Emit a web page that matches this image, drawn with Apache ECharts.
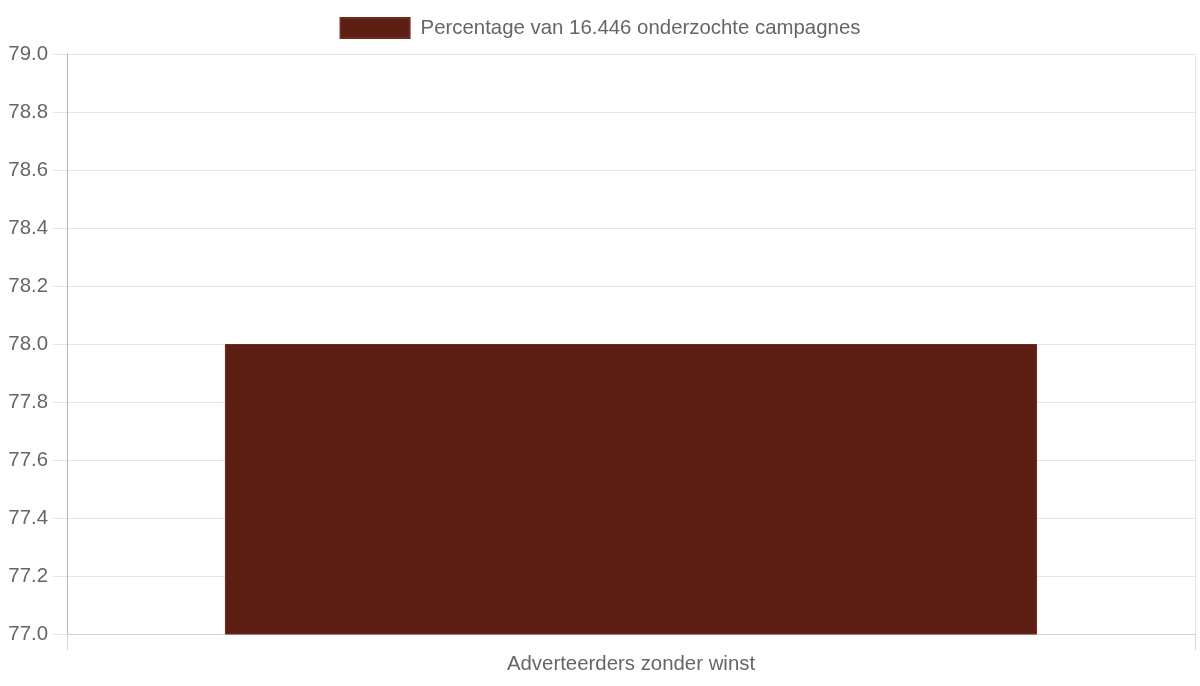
<!DOCTYPE html>
<html>
<head>
<meta charset="utf-8">
<script src="https://cdn.jsdelivr.net/npm/echarts@6/dist/echarts.min.js"></script>
<style>
html,body{margin:0;padding:0;background:#fff;}
#chart{width:1200px;height:686px;}
</style>
</head>
<body>
<div id="chart"></div>
<script>
const categories = ["Adverteerders zonder winst"];
const seriesName = "Percentage van 16.446 onderzochte campagnes";
const values = [78.0];
const yMin = 77.0, yMax = 79.0, yStep = 0.2;

const chart = echarts.init(document.getElementById('chart'));
const font = '"Liberation Sans", Arial, sans-serif';
chart.setOption({
  animation: false,
  textStyle: { fontFamily: font },
  legend: {
    top: 12, left: 'center',
    itemWidth: 69, itemHeight: 20, itemGap: 10,
    icon: 'rect',
    textStyle: { fontSize: 20.4, color: '#666', fontFamily: font, padding: [0, 0, 0, 6] },
    data: [seriesName]
  },
  grid: { left: 67, right: 5, top: 54, bottom: 52, containLabel: false },
  xAxis: {
    type: 'category',
    data: categories,
    boundaryGap: true,
    axisLine: { show: true, lineStyle: { color: '#cfcfcf', width: 1 } },
    axisTick: { show: true, length: 16, alignWithLabel: false, lineStyle: { color: '#d5d5d5' } },
    splitLine: { show: true, lineStyle: { color: '#e5e5e5' } },
    axisLabel: { fontSize: 20.4, color: '#666', margin: 20, fontFamily: font }
  },
  yAxis: {
    type: 'value',
    min: yMin, max: yMax, interval: yStep,
    axisLine: { show: true, lineStyle: { color: '#b5b5b5', width: 1 } },
    axisTick: { show: true, length: 14, lineStyle: { color: '#e5e5e5' } },
    splitLine: { show: true, lineStyle: { color: '#e5e5e5' } },
    axisLabel: { fontSize: 20.4, color: '#666', margin: 19, fontFamily: font,
      formatter: v => v.toFixed(1) }
  },
  series: [{
    name: seriesName,
    type: 'bar',
    data: values,
    barWidth: '72%',
    itemStyle: { color: '#5c1e13', borderColor: '#6e2a1e', borderWidth: 1 }
  }]
});
</script>
</body>
</html>
